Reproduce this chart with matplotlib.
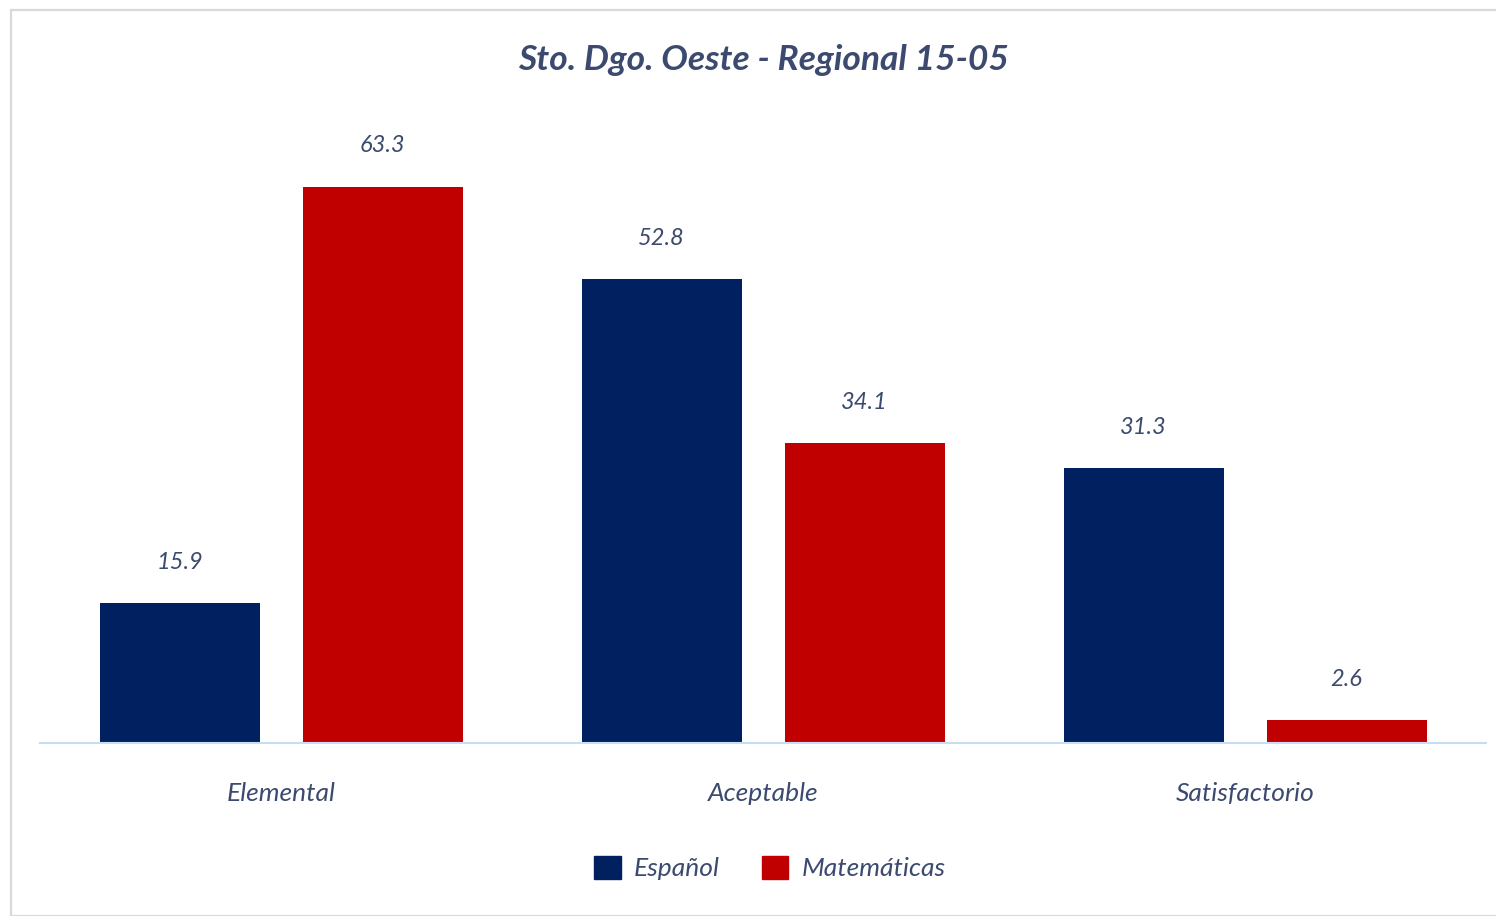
import matplotlib
matplotlib.use("Agg")
import matplotlib.pyplot as plt
import numpy as np
from matplotlib.patches import Rectangle, Patch

categories = ["Elemental", "Aceptable", "Satisfactorio"]
espanol = [15.9, 52.8, 31.3]
matematicas = [63.3, 34.1, 2.6]
series_names = ["Español", "Matemáticas"]
title = "Sto. Dgo. Oeste - Regional 15-05"

W, H = 1496, 916
fig = plt.figure(figsize=(W / 100, H / 100), dpi=100)
fig.patch.set_facecolor("white")

# border
fig.add_artist(Rectangle((11 / W, 0), (W + 20) / W, (H - 10) / H, transform=fig.transFigure,
                         fill=False, edgecolor="#D9D9D9", linewidth=1.6))

ax_left, ax_right = 40, 1486
ax_bottom, ax_top = 743, 120
ax = fig.add_axes([ax_left / W, 1 - ax_bottom / H, (ax_right - ax_left) / W, (ax_bottom - ax_top) / H])

px_per_unit = 556 / 63.3
ymax = (ax_bottom - ax_top) / px_per_unit

text_color = "#3B4A6E"
c_esp = "#002060"
c_mat = "#C00000"
font = "Lato"

x = np.arange(len(categories))
bw = 160 / 482
off = 101.5 / 482
b1 = ax.bar(x - off, espanol, bw, color=c_esp)
b2 = ax.bar(x + off, matematicas, bw, color=c_mat)

for bars, vals in ((b1, espanol), (b2, matematicas)):
    for b, v in zip(bars, vals):
        ax.annotate(f"{v:.1f}", (b.get_x() + b.get_width() / 2, v), xytext=(0, 41),
                    textcoords="offset pixels",
                    ha="center", va="center", fontsize=17, color=text_color,
                    family=font, style="italic")

ax.set_xlim(-0.5, 2.5)
ax.set_ylim(0, ymax)
for s in ["top", "right", "left"]:
    ax.spines[s].set_visible(False)
ax.spines["bottom"].set_color("#C9DDF2")
ax.spines["bottom"].set_linewidth(1.5)
ax.set_yticks([])
ax.set_xticks(x)
ax.set_xticklabels(categories, fontsize=19, color=text_color, family=font, style="italic")
ax.tick_params(axis="x", length=0, pad=28)

fig.text(763 / W, 1 - 60 / H, title, ha="center", va="center", fontsize=25.5,
         color=text_color, family=font, style="italic", weight="bold")

handles = [Patch(color=c_esp), Patch(color=c_mat)]
leg = fig.legend(handles, series_names, loc="center", bbox_to_anchor=(770 / W, 1 - 868 / H),
                 ncol=2, frameon=False, fontsize=19, handlelength=1.0, handleheight=1.0,
                 handletextpad=0.5, columnspacing=1.6)
for t in leg.get_texts():
    t.set_color(text_color)
    t.set_family(font)
    t.set_style("italic")

fig.savefig("out.png", dpi=100, facecolor="white")
